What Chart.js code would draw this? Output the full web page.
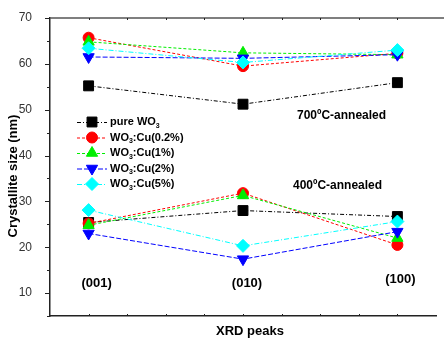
<!DOCTYPE html>
<html>
<head>
<meta charset="utf-8">
<script src="https://cdn.jsdelivr.net/npm/chart.js@4/dist/chart.umd.min.js"></script>
<style>
html,body{margin:0;padding:0;background:#fff;}
#wrap{width:444px;height:338px;position:relative;}
</style>
</head>
<body>
<div id="wrap"><canvas id="c" width="444" height="338"></canvas></div>
<script>
// ---- data ----
const categories = ['(001)', '(010)', '(100)'];
const seriesNames = ['pure WO3', 'WO3:Cu(0.2%)', 'WO3:Cu(1%)', 'WO3:Cu(2%)', 'WO3:Cu(5%)'];
const pure700 = [55.2, 51.2, 55.9];
const pure400 = [25.4, 28.0, 26.7];
const cu02_700 = [65.7, 59.5, 62.3];
const cu02_400 = [25.2, 31.8, 20.5];
const cu1_700 = [64.8, 62.4, 62.0];
const cu1_400 = [24.8, 31.3, 22.0];
const cu2_700 = [61.5, 61.2, 62.0];
const cu2_400 = [23.0, 17.4, 23.4];
const cu5_700 = [63.4, 60.3, 63.0];
const cu5_400 = [28.1, 20.3, 25.6];
const yTicks = [10, 20, 30, 40, 50, 60, 70];
const annotations = ['700ºC-annealed', '400ºC-annealed'];

const styles = [
  {color:'#000000', pointStyle:'rect', radius:7, rotation:0, dash:[4,2,1,2]},
  {color:'#ff0000', pointStyle:'circle', radius:5.5, rotation:0, dash:[3,2]},
  {color:'#00ee00', pointStyle:'triangle', radius:6.5, rotation:0, dash:[3,2]},
  {color:'#0000ff', pointStyle:'triangle', radius:6.5, rotation:180, dash:[5,2]},
  {color:'#00ffff', pointStyle:'rectRot', radius:6.5, rotation:0, dash:[5,2,1,2]}
];
const seriesData = [
  [pure700, pure400], [cu02_700, cu02_400], [cu1_700, cu1_400], [cu2_700, cu2_400], [cu5_700, cu5_400]
];

const datasets = [];
for (let s = seriesData.length - 1; s >= 0; s--) {
  const st = styles[s];
  seriesData[s].forEach((vals, k) => {
    datasets.push({
      label: seriesNames[s] + (k === 0 ? ' 700' : ' 400'),
      data: categories.map((c, i) => ({x: i + 1, y: vals[i]})),
      borderColor: st.color,
      backgroundColor: st.color,
      pointBackgroundColor: st.color,
      pointBorderColor: st.color,
      pointBorderWidth: 1,
      pointStyle: st.pointStyle,
      pointRadius: st.radius,
      pointRotation: st.rotation,
      borderDash: st.dash,
      borderWidth: 1,
      tension: 0,
      fill: false
    });
  });
}

function drawMarker(ctx, st, x, y) {
  if (Chart.helpers && Chart.helpers.drawPoint) {
    ctx.save();
    ctx.fillStyle = st.color; ctx.strokeStyle = st.color; ctx.lineWidth = 1; ctx.setLineDash([]);
    Chart.helpers.drawPoint(ctx, {pointStyle: st.pointStyle, radius: st.radius, rotation: st.rotation, borderWidth: 1}, x, y);
    ctx.restore();
  }
}

function drawSubText(ctx, parts, x, y) {
  // parts: [text, isSub]
  let cx = x;
  parts.forEach(p => {
    if (p[1]) {
      ctx.font = 'bold 7px Arial, "Liberation Sans"';
      ctx.fillText(p[0], cx, y + 4);
    } else {
      ctx.font = 'bold 11px Arial, "Liberation Sans"';
      ctx.fillText(p[0], cx, y);
    }
    cx += ctx.measureText(p[0]).width;
  });
}

const decor = {
  id: 'decor',
  afterDraw(chart) {
    const ctx = chart.ctx;
    const ca = chart.chartArea;
    const xs = chart.scales.x, ys = chart.scales.y;
    ctx.save();
    // top frame line
    ctx.strokeStyle = '#555'; ctx.lineWidth = 1.5; ctx.setLineDash([]);
    ctx.beginPath(); ctx.moveTo(ca.left, ca.top); ctx.lineTo(444, ca.top); ctx.stroke();
    // y ticks
    ctx.strokeStyle = '#222'; ctx.lineWidth = 1;
    for (let v = 5; v <= 70; v += 5) {
      const py = Math.round(ys.getPixelForValue(v)) + 0.5;
      const len = v % 10 === 0 ? 5 : 3;
      ctx.beginPath(); ctx.moveTo(ca.left - len, py); ctx.lineTo(ca.left, py); ctx.stroke();
    }
    // x ticks (small, inside) bottom and top
    for (let v = 1; v <= 3.01; v += 0.25) {
      const px = Math.round(xs.getPixelForValue(v)) + 0.5;
      ctx.beginPath(); ctx.moveTo(px, ca.bottom); ctx.lineTo(px, ca.bottom - 2); ctx.stroke();
      ctx.beginPath(); ctx.moveTo(px, ca.top); ctx.lineTo(px, ca.top + 2); ctx.stroke();
    }
    // category labels
    ctx.fillStyle = '#000';
    ctx.font = 'bold 13px Arial, "Liberation Sans"';
    ctx.textAlign = 'center'; ctx.textBaseline = 'middle';
    const catOffsets = [[8, 283], [4, 283], [3, 279]];
    categories.forEach((c, i) => {
      ctx.fillText(c, xs.getPixelForValue(i + 1) + catOffsets[i][0], catOffsets[i][1]);
    });
    // annotations
    ctx.font = 'bold 12px Arial, "Liberation Sans"';
    ctx.textAlign = 'left';
    ctx.fillText(annotations[0], 297, 116);
    ctx.fillText(annotations[1], 293, 186);
    // axis titles
    ctx.font = 'bold 13px Arial, "Liberation Sans"';
    ctx.textAlign = 'center';
    ctx.fillText('XRD peaks', 250, 331);
    ctx.save();
    ctx.translate(13, 176);
    ctx.rotate(-Math.PI / 2);
    ctx.fillText('Crystallite size (nm)', 0, 0);
    ctx.restore();
    // legend
    const rowsY = [122, 137.5, 153, 168.5, 184];
    const texts = [
      [['pure WO', false], ['3', true]],
      [['WO', false], ['3', true], [':Cu(0.2%)', false]],
      [['WO', false], ['3', true], [':Cu(1%)', false]],
      [['WO', false], ['3', true], [':Cu(2%)', false]],
      [['WO', false], ['3', true], [':Cu(5%)', false]]
    ];
    rowsY.forEach((ry, i) => {
      const st = styles[i];
      ctx.strokeStyle = st.color; ctx.lineWidth = 1; ctx.setLineDash(st.dash);
      ctx.beginPath(); ctx.moveTo(77, ry + 0.5); ctx.lineTo(107, ry + 0.5); ctx.stroke();
      ctx.setLineDash([]);
      drawMarker(ctx, st, 92, ry);
      ctx.fillStyle = '#000'; ctx.textAlign = 'left'; ctx.textBaseline = 'middle';
      drawSubText(ctx, texts[i], 110, ry);
    });
    ctx.restore();
  }
};

new Chart(document.getElementById('c'), {
  type: 'line',
  data: {datasets},
  options: {
    responsive: false,
    animation: false,
    layout: {padding: {top: 18, right: 1, left: 0, bottom: 0}},
    plugins: {legend: {display: false}, tooltip: {enabled: false}},
    scales: {
      x: {
        type: 'linear', min: 0.75, max: 3.25,
        ticks: {display: false},
        grid: {display: false},
        border: {display: true, color: '#222', width: 1.5},
        afterFit(s) { s.height = 22; }
      },
      y: {
        type: 'linear', min: 5, max: 70,
        ticks: {
          stepSize: 5, padding: 10, color: '#333',
          font: {family: 'Arial, "Liberation Sans"', size: 12},
          callback: v => yTicks.includes(v) ? String(v) : ''
        },
        grid: {display: false},
        border: {display: true, color: '#222', width: 1.5},
        afterFit(s) { s.width = 50; }
      }
    }
  },
  plugins: [decor]
});
</script>
</body>
</html>
